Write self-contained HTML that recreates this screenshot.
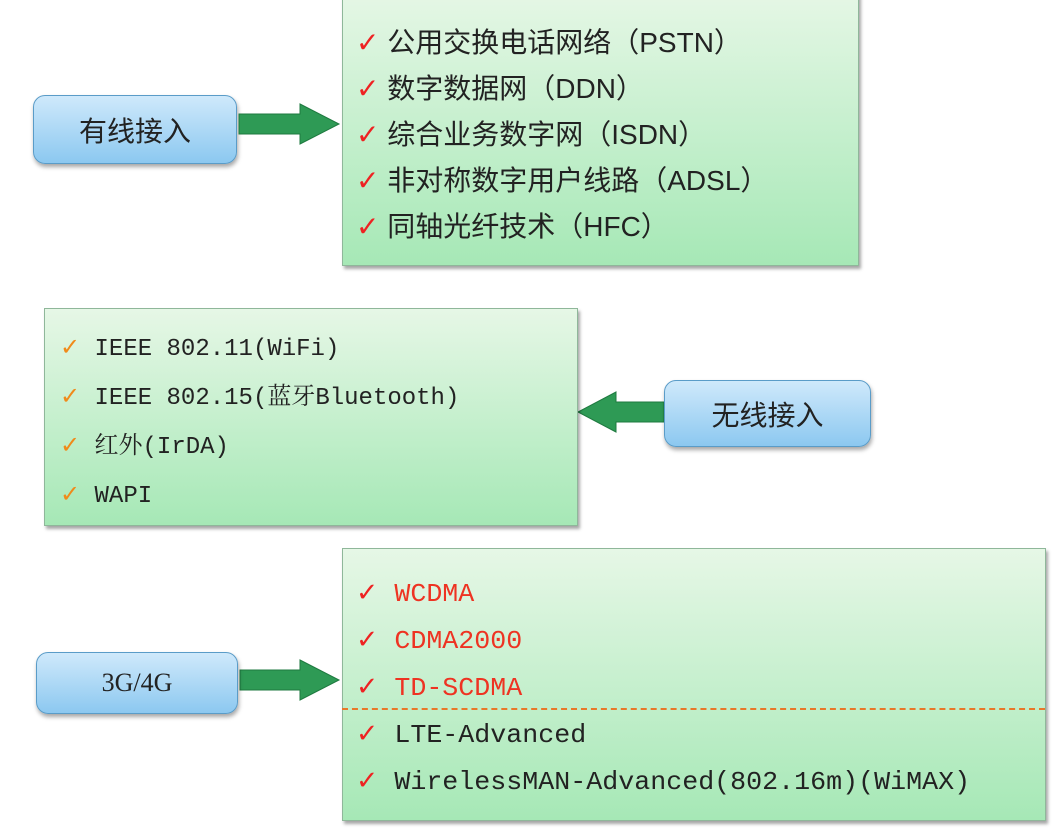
<!DOCTYPE html>
<html><head><meta charset="utf-8"><style>
body{margin:0;width:1053px;height:832px;background:#fff;position:relative;overflow:hidden;font-family:"Liberation Mono","Noto Serif CJK SC",monospace;}
.g{position:absolute;background:linear-gradient(#e6f7e6,#a6e8b6);border:1px solid #8fb79a;box-shadow:2px 3px 3px rgba(0,0,0,.35);}
.b{position:absolute;background:linear-gradient(#cfe9fb,#8cc8f0);border:1px solid #5a9cc8;border-radius:12px;box-shadow:1px 3px 4px rgba(0,0,0,.35);display:flex;align-items:center;justify-content:center;font-family:"Liberation Sans","Noto Sans CJK SC",sans-serif;font-size:28px;color:#222;}
.l{position:absolute;white-space:nowrap;color:#222;}
.c{color:#e22;font-family:"DejaVu Sans",sans-serif;}
.o{color:#f08a1a;font-family:"DejaVu Sans",sans-serif;}
</style></head><body>
<div class="g" style="left:342px;top:-10px;width:515px;height:274px"></div>
<div class="l" style="left:356px;top:20px;font-size:28px;line-height:46px;font-family:'Liberation Sans','Noto Sans CJK SC',sans-serif">
<div><span class="c">✓</span> 公用交换电话网络（PSTN）</div>
<div><span class="c">✓</span> 数字数据网（DDN）</div>
<div><span class="c">✓</span> 综合业务数字网（ISDN）</div>
<div><span class="c">✓</span> 非对称数字用户线路（ADSL）</div>
<div><span class="c">✓</span> 同轴光纤技术（HFC）</div>
</div>
<div class="b" style="left:33px;top:95px;width:202px;height:67px">有线接入</div>
<svg style="position:absolute;left:0;top:0" width="1053" height="832">
<polygon points="239,114 300,114 300,104 339,124 300,144 300,134 239,134" fill="#2e9a55" stroke="#1f7a40"/>
<polygon points="664,402 616,402 616,392 578,412 616,432 616,422 664,422" fill="#2e9a55" stroke="#1f7a40"/>
<polygon points="240,670 300,670 300,660 339,680 300,700 300,690 240,690" fill="#2e9a55" stroke="#1f7a40"/>
</svg>
<div class="g" style="left:44px;top:308px;width:532px;height:216px"></div>
<div class="l" style="left:60px;top:324px;font-size:24px;line-height:46px">
<div><span class="o">✓</span> IEEE 802.11(WiFi)</div>
<div><span class="o">✓</span> IEEE 802.15(蓝牙Bluetooth)</div>
<div><span class="o">✓</span> 红外(IrDA)</div>
<div><span class="o">✓</span> WAPI</div>
</div>
<div class="b" style="left:664px;top:380px;width:205px;height:65px">无线接入</div>
<div class="g" style="left:342px;top:548px;width:702px;height:271px"></div>
<div style="position:absolute;left:342px;top:708px;width:703px;border-top:2px dashed #e8782a"></div>
<div class="l" style="left:356px;top:570px;font-size:26px;line-height:46px;transform:scaleX(1.025);transform-origin:left top">
<div style="color:#e32"><span class="c">✓</span> WCDMA</div>
<div style="color:#e32"><span class="c">✓</span> CDMA2000</div>
<div style="color:#e32"><span class="c">✓</span> TD-SCDMA</div>
<div><span class="c">✓</span> LTE-Advanced</div>
<div><span class="c">✓</span> WirelessMAN-Advanced(802.16m)(WiMAX)</div>
</div>
<div class="b" style="left:36px;top:652px;width:200px;height:60px;font-family:'Liberation Serif',serif;font-size:26px">3G/4G</div>
</body></html>
